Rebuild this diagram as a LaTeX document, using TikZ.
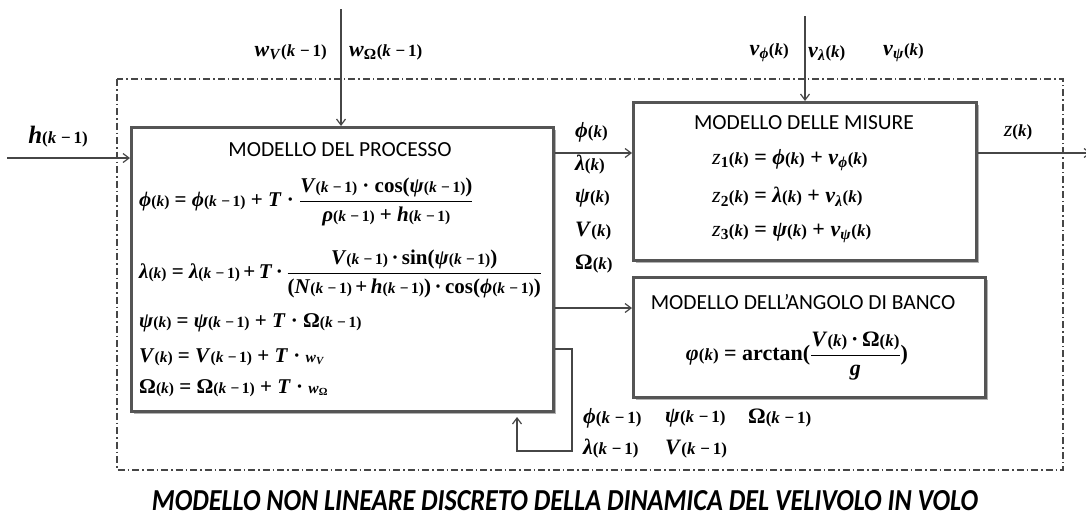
\documentclass[tikz,border=0pt]{standalone}
\usepackage{amsmath}
\usepackage{fontspec}
\setmainfont{Carlito}
\newfontfamily\tnr{Liberation Serif}
\usetikzlibrary{arrows.meta,shadows}
\definecolor{boxc}{RGB}{85,85,85}
\definecolor{linec}{RGB}{70,70,70}
\newcommand\iv[1]{\textit{#1}}
\def\argpt{15}
\newcommand\argsz{\fontsize{\argpt}{\argpt}\selectfont}
\newcommand\A[1]{{\argsz(#1)}}
\newcommand\km{\iv{k}\;−\,1}
\newcommand\fr[2]{$\dfrac{\text{#1}}{\text{#2}}$}
\newcommand\zz{{\tnr\mdseries\itshape z}}
\newcommand\tp{\,+\,}
\newcommand\td{\,·\,}
\begin{document}
\begin{tikzpicture}[x=1pt,y=-1pt,
  box/.style={draw=boxc, line width=2.6pt, fill=white, inner sep=0pt,
    drop shadow={shadow xshift=2.5pt, shadow yshift=-2.5pt, fill=black!30, opacity=1}},
  conn/.style={draw=linec, line width=1.2pt, -{Straight Barb[length=6pt,width=9pt,line width=1.2pt]}},
  ttl/.style={font=\fontsize{21.5}{24}\selectfont, inner sep=0pt},
  eq/.style={font=\tnr\bfseries\fontsize{21}{24}\selectfont\def\argpt{15.5}, inner sep=0pt, anchor=west},
  meq/.style={font=\tnr\bfseries\fontsize{22}{25}\selectfont\def\argpt{17}, inner sep=0pt, anchor=west},
  lab/.style={font=\tnr\bfseries\fontsize{22}{25}\selectfont\def\argpt{17}, inner sep=0pt},
  frame/.style={draw=linec, line width=1.1pt, dash pattern=on 7pt off 3pt on 1.5pt off 3pt}]

\useasboundingbox (0,0) rectangle (1086,523);

% outer dash-dot frame
\coordinate (fa) at (117,79);
\coordinate (fb) at (1063,470);
\draw[frame] (fa) rectangle (fb);

% boxes
\node[box, anchor=north west, minimum width=422pt, minimum height=284pt] (proc) at (130,126) {};
\node[box, anchor=north west, minimum width=343pt, minimum height=158pt] (meas) at (632,101) {};
\node[box, anchor=north west, minimum width=352pt, minimum height=120pt] (bank) at (632,276) {};

% process contents
\node[ttl] (ptitle) at (340,150) {MODELLO DEL PROCESSO};
\node[eq] (e1) at (139,202) {\iv{ϕ}\A{\iv{k}} = \iv{ϕ}\A{\km} + \iv{T} · \fr{\iv{V}\A{\km} · cos(\iv{ψ}\A{\km})}{\iv{ρ}\A{\km} + \iv{h}\A{\km}}};
\node[eq] (e2) at (139,274) {\iv{λ}\A{\iv{k}} = \iv{λ}\A{\km}\tp\iv{T}\td\fr{\iv{V}\A{\km}\td sin(\iv{ψ}\A{\km})}{(\iv{N}\A{\km}\tp\iv{h}\A{\km})\td cos(\iv{ϕ}\A{\km})}};
\node[eq] (e3) at (139,323) {\iv{ψ}\A{\iv{k}} = \iv{ψ}\A{\km} + \iv{T} · Ω\A{\km}};
\node[eq] (e4) at (139,357) {\iv{V}\A{\iv{k}} = \iv{V}\A{\km} + \iv{T} · {\argsz\iv{w}\textsubscript{\iv{V}}}};
\node[eq] (e5) at (139,388) {Ω\A{\iv{k}} = Ω\A{\km} + \iv{T} · {\argsz\iv{w}\textsubscript{Ω}}};

% measurement contents
\node[ttl] (mtitle) at (804,123) {MODELLO DELLE MISURE};
\node[meq] (z1) at (712,160) {\zz\textsubscript{1}\A{\iv{k}} = \iv{ϕ}\A{\iv{k}} + \iv{v}\textsubscript{\iv{ϕ}}\A{\iv{k}}};
\node[meq] (z2) at (712,197) {\zz\textsubscript{2}\A{\iv{k}} = \iv{λ}\A{\iv{k}} + \iv{v}\textsubscript{\iv{λ}}\A{\iv{k}}};
\node[meq] (z3) at (712,233) {\zz\textsubscript{3}\A{\iv{k}} = \iv{ψ}\A{\iv{k}} + \iv{v}\textsubscript{\iv{ψ}}\A{\iv{k}}};

% bank contents
\node[ttl] (btitle) at (803,302) {MODELLO DELL’ANGOLO DI BANCO};
\node[meq, anchor=center] (beq) at (797,356) {\iv{φ}\A{\iv{k}} = arctan(\fr{\iv{V}\A{\iv{k}}\td Ω\A{\iv{k}}}{\iv{g}})};

% inputs
\coordinate (wtop) at (341,9);
\draw[conn] (wtop) -- (wtop |- proc.north);
\node[lab, anchor=east] (wv) at (327,52) {\iv{w}\textsubscript{\iv{V}}\A{\km}};
\node[lab, anchor=west] (wo) at (349,52) {\iv{w}\textsubscript{Ω}\A{\km}};

\coordinate (vtop) at (805,16);
\draw[conn] (vtop) -- (vtop |- meas.north);
\node[lab, anchor=east] (vphi) at (789,53) {\iv{v}\textsubscript{\iv{ϕ}}\A{\iv{k}}};
\node[lab, anchor=west] (vlam) at (808,53) {\iv{v}\textsubscript{\iv{λ}}\A{\iv{k}}};
\node[lab, anchor=west] (vpsi) at (883,53) {\iv{v}\textsubscript{\iv{ψ}}\A{\iv{k}}};

\coordinate (hin) at (7,158);
\draw[conn] (hin) -- (proc.west |- hin);
\node[lab] (hlab) at (58,137) {\fontsize{25}{27}\selectfont\iv{h}\A{\km}};

% state outputs
\coordinate (o1) at (552,153);
\draw[conn] (proc.east |- o1) -- (meas.west |- o1);
\coordinate (o2) at (552,308);
\draw[conn] (proc.east |- o2) -- (bank.west |- o2);
\node[lab, anchor=west] (sphi) at (575,132) {\iv{ϕ}\A{\iv{k}}};
\node[lab, anchor=west] (slam) at (575,165) {\iv{λ}\A{\iv{k}}};
\node[lab, anchor=west] (spsi) at (575,198) {\iv{ψ}\A{\iv{k}}};
\node[lab, anchor=west] (sv) at (575,231) {\iv{V}\A{\iv{k}}};
\node[lab, anchor=west] (som) at (575,264) {Ω\A{\iv{k}}};

% measurement output
\coordinate (zout) at (1091,153);
\draw[conn] (meas.east |- o1) -- (zout);
\node[lab] (zlab) at (1018,132) {\zz\A{\iv{k}}};

% feedback
\coordinate (fb1) at (572,349);
\coordinate (fb2) at (572,451);
\coordinate (fb3) at (517,451);
\coordinate (fb4) at (517,417);
\draw[conn] (proc.east |- fb1) -- (fb1) -- (fb2) -- (fb3) -- (fb4);
\node[lab, anchor=west] (dphi) at (583,418) {\iv{ϕ}\A{\km}};
\node[lab, anchor=west] (dpsi) at (665,418) {\iv{ψ}\A{\km}};
\node[lab, anchor=west] (dom) at (748,418) {Ω\A{\km}};
\node[lab, anchor=west] (dlam) at (583,449) {\iv{λ}\A{\km}};
\node[lab, anchor=west] (dv) at (665,449) {\iv{V}\A{\km}};

% caption
\node[inner sep=0pt] (cap) at (565,501) {\resizebox{826pt}{20pt}{\bfseries\itshape MODELLO NON LINEARE DISCRETO DELLA DINAMICA DEL VELIVOLO IN VOLO}};
\end{tikzpicture}
\end{document}
